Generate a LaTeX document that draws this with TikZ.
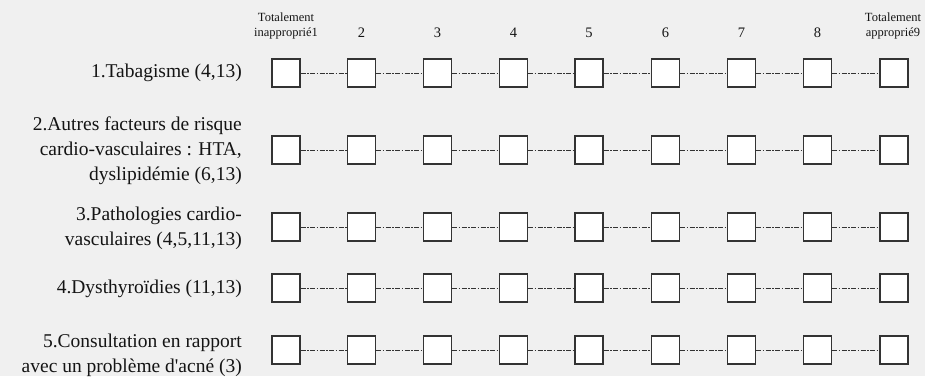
\documentclass[tikz,border=0pt]{standalone}
\usepackage{fontspec}
\setmainfont{Liberation Serif}[Ligatures=TeXOff]
\begin{document}
\begin{tikzpicture}[x=1pt,y=-1pt,
  box/.style={draw=black!80,line width=1.3pt,fill=white,minimum size=28pt,inner sep=0pt},
  link/.style={draw=black!80,line width=0.9pt,dash pattern=on 5pt off 1.5pt on 1.5pt off 1.5pt},
  rowlabel/.style={anchor=east,align=right,inner sep=0pt,text=black!92,font=\fontsize{19.5}{25}\selectfont},
  headnum/.style={inner sep=0pt,text=black!92,font=\fontsize{14.5}{16}\selectfont},
  headtxt/.style={inner sep=0pt,align=center,text=black!92,font=\fontsize{12.5}{15}\selectfont}]
\fill[black!6] (0,0) rectangle (925,376);
\useasboundingbox (0,0) rectangle (925,376);
% header
\node[headtxt] (h1) at (286,26) {Totalement\\inapproprié1};
\node[headnum] (h2) at (361.5,33) {2};
\node[headnum] (h3) at (437.5,33) {3};
\node[headnum] (h4) at (513.5,33) {4};
\node[headnum] (h5) at (589,33) {5};
\node[headnum] (h6) at (665.5,33) {6};
\node[headnum] (h7) at (741.5,33) {7};
\node[headnum] (h8) at (817.5,33) {8};
\node[headtxt] (h9) at (893,26) {Totalement\\approprié9};
% row labels
\node[rowlabel] (l1) at (242,73) {1.Tabagisme (4,13)};
\node[rowlabel] (l2) at (242,151) {2.Autres facteurs de risque\\cardio-vasculaires : HTA,\\dyslipidémie (6,13)};
\node[rowlabel] (l3) at (242,228) {3.Pathologies cardio-\\vasculaires (4,5,11,13)};
\node[rowlabel] (l4) at (242,289) {4.Dysthyroïdies (11,13)};
\node[rowlabel] (l5) at (242,355) {5.Consultation en rapport\\avec un problème d'acné (3)};
% boxes
\foreach \r/\y in {1/73,2/150,3/227,4/288,5/350}{
  \foreach \c/\x in {1/286,2/361.5,3/437.5,4/513.5,5/589,6/665.5,7/741.5,8/817.5,9/894}{
    \node[box] (b\r-\c) at (\x,\y) {};
  }
  \foreach \c [evaluate=\c as \n using int(\c+1)] in {1,...,8}{
    \draw[link] (b\r-\c.east) -- (b\r-\n.west);
  }
}
\end{tikzpicture}
\end{document}
